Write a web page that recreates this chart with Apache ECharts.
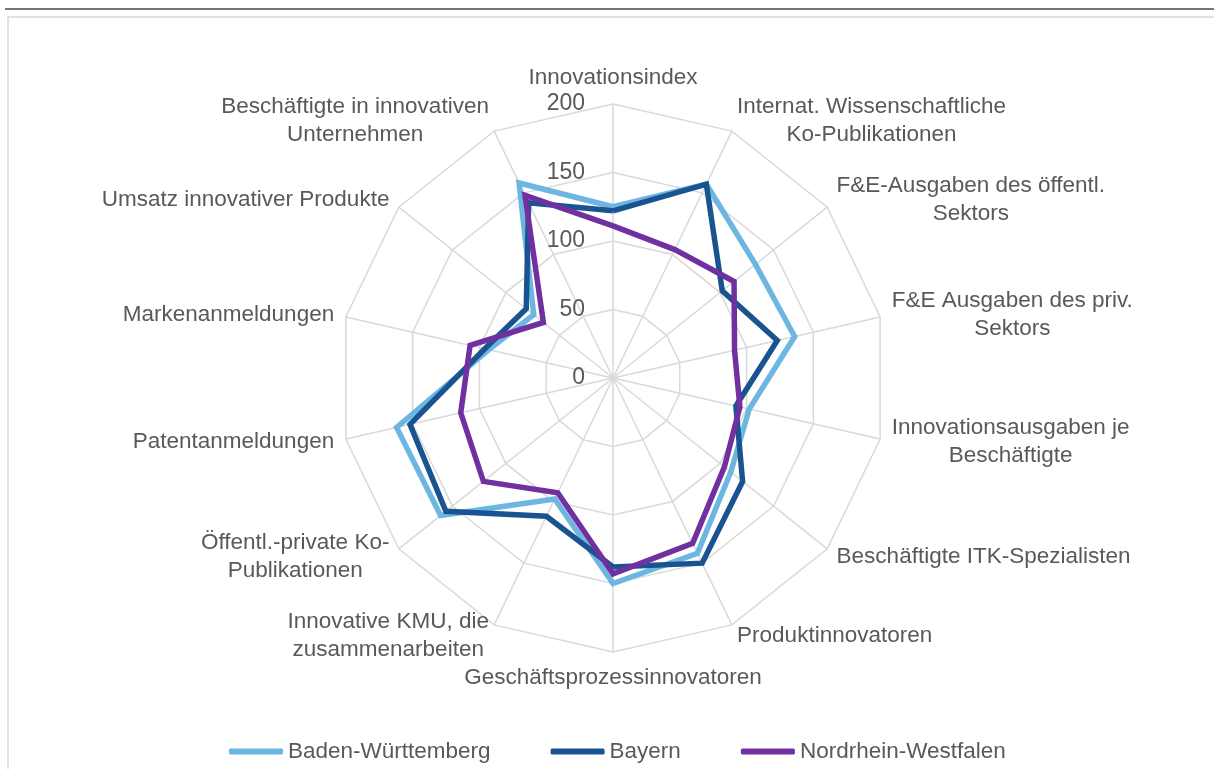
<!DOCTYPE html>
<html>
<head>
<meta charset="utf-8">
<script src="https://cdn.jsdelivr.net/npm/echarts@6/dist/echarts.min.js"></script>
<style>
  html, body { margin: 0; padding: 0; background: #fff; }
  #chart { width: 1214px; height: 769px; }
</style>
</head>
<body>
<div id="chart"></div>
<script>
// Indikatoren im Uhrzeigersinn, beginnend oben (wie im Original)
const indicatorNames = [
  'Innovationsindex',
  'Internat. Wissenschaftliche\nKo-Publikationen',
  'F&E-Ausgaben des öffentl.\nSektors',
  'F&E Ausgaben des priv.\nSektors',
  'Innovationsausgaben je\nBeschäftigte',
  'Beschäftigte ITK-Spezialisten',
  'Produktinnovatoren',
  'Geschäftsprozessinnovatoren',
  'Innovative KMU, die\nzusammenarbeiten',
  'Öffentl.-private Ko-\nPublikationen',
  'Patentanmeldungen',
  'Markenanmeldungen',
  'Umsatz innovativer Produkte',
  'Beschäftigte in innovativen\nUnternehmen'
]

const seriesNames = ['Baden-Württemberg', 'Bayern', 'Nordrhein-Westfalen']
const bwValues  = [125, 157, 133, 136, 102, 110, 142, 150, 98, 161, 162, 93, 74, 158]
const byValues  = [122, 157, 102, 123, 92, 121, 150, 138, 112, 156, 152, 96, 81, 142]
const nrwValues = [111, 104, 113, 91, 95, 104, 134, 143, 93, 121, 114, 107, 65, 148]
const colors = ['#6DB6E2', '#1A5490', '#7030A0']

const scaleTicks = [0, 50, 100, 150, 200]

// ECharts legt Radar-Indikatoren gegen den Uhrzeigersinn an -> Reihenfolge drehen
const n = indicatorNames.length
const order = indicatorNames.map((_, i) => (i === 0 ? 0 : n - i))
const reorder = arr => order.map(i => arr[i])

const topName = indicatorNames[0]
const bottomName = indicatorNames[7]

const textColor = '#595959'
const font = '"Liberation Sans", Arial, sans-serif'

const chart = echarts.init(document.getElementById('chart'))

chart.setOption({
  animation: false,
  backgroundColor: '#fff',
  textStyle: { fontFamily: font },
  graphic: [
    { type: 'line', shape: { x1: 5, y1: 9, x2: 1214, y2: 9 }, style: { stroke: '#6E767C', lineWidth: 2 } },
    { type: 'rect', shape: { x: 8, y: 17, width: 1220, height: 760 }, style: { fill: 'none', stroke: '#D9D9D9', lineWidth: 1.5 } }
  ],
  legend: {
    data: seriesNames,
    left: 224,
    top: 735,
    icon: 'roundRect',
    itemWidth: 54,
    itemHeight: 6,
    itemGap: 60,
    textStyle: { color: textColor, fontSize: 22.5, fontFamily: font }
  },
  // unsichtbares Achsensystem nur für die Skalenbeschriftung 0..200
  grid: { left: 612, top: 104, width: 1, height: 274, containLabel: false },
  xAxis: { type: 'value', show: false },
  yAxis: {
    type: 'value',
    min: scaleTicks[0],
    max: scaleTicks[scaleTicks.length - 1],
    interval: 50,
    axisLine: { show: false },
    axisTick: { show: false },
    splitLine: { show: false },
    axisLabel: { color: textColor, fontSize: 23, margin: 27, fontFamily: font }
  },
  radar: {
    center: [613, 378],
    radius: 274,
    startAngle: 90,
    shape: 'polygon',
    splitNumber: 4,
    nameGap: 12,
    axisName: {
      color: textColor,
      fontSize: 22.5,
      fontFamily: font,
      verticalAlign: 'middle',
      lineHeight: 28,
      formatter: name => {
        const lines = name.split('\n').map(l => '{c|' + l + '}')
        if (name === topName) lines.push('')
        if (name === bottomName) lines.unshift('')
        return lines.join('\n')
      },
      rich: {
        c: { align: 'center', color: textColor, fontSize: 22.5, fontFamily: font, lineHeight: 28 }
      }
    },
    axisLine: { lineStyle: { color: '#D9D9D9', width: 1.5 } },
    splitLine: { lineStyle: { color: '#D9D9D9', width: 1.5 } },
    splitArea: { show: false },
    indicator: reorder(indicatorNames).map(name => ({ name, min: 0, max: 200 }))
  },
  series: [{
    type: 'radar',
    symbol: 'none',
    lineStyle: { width: 5.5, join: 'miter' },
    data: [bwValues, byValues, nrwValues].map((vals, i) => ({
      name: seriesNames[i],
      value: reorder(vals),
      itemStyle: { color: colors[i] },
      lineStyle: { color: colors[i], width: 5.5 }
    }))
  }]
})
</script>
</body>
</html>
